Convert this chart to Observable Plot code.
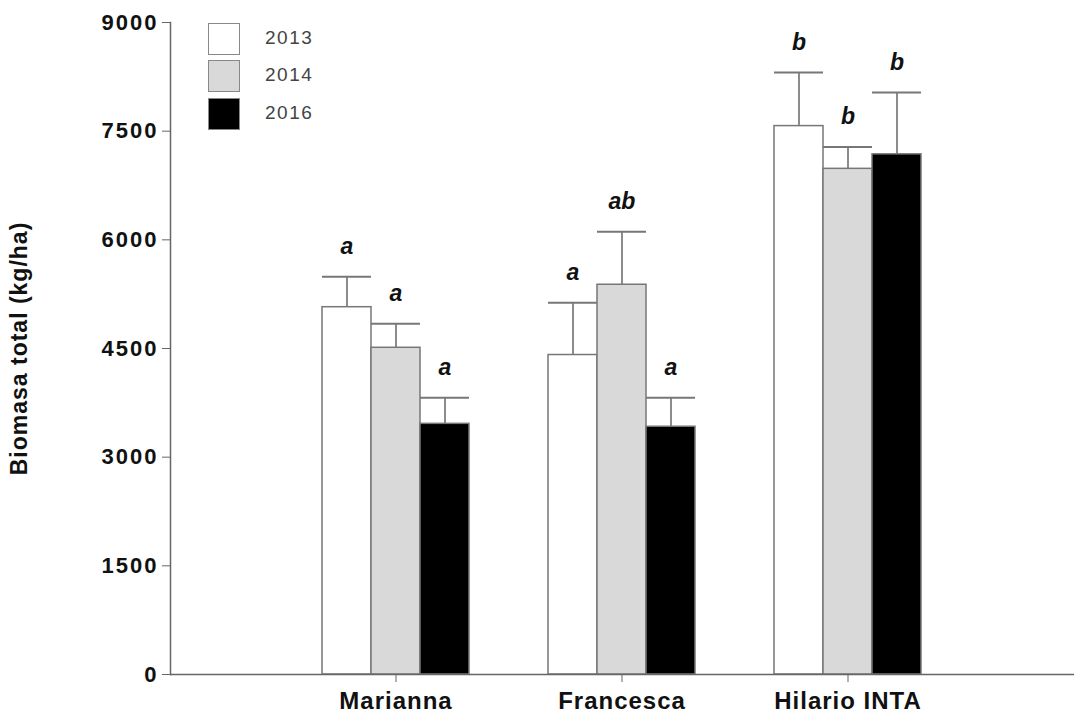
<!DOCTYPE html>
<html>
<head>
<meta charset="utf-8">
<script src="https://cdn.jsdelivr.net/npm/d3@7"></script>
<script src="https://cdn.jsdelivr.net/npm/@observablehq/plot@0.6"></script>
<style>
  html, body { margin: 0; padding: 0; background: #fff; }
  #wrap { position: relative; width: 1074px; height: 718px; font-family: "Liberation Sans", Arial, sans-serif; }
  #wrap svg text { font-family: "Liberation Sans", Arial, sans-serif; }
  .legend { position: absolute; left: 208px; top: 23px; }
  .legend .row { position: absolute; left: 0; width: 200px; height: 32px; }
  .legend .box { position: absolute; left: 0; top: 0; width: 30px; height: 30px; border: 1.5px solid #888; }
  .legend .lab { position: absolute; left: 57px; top: 4px; font-size: 19px; letter-spacing: 1.5px; color: #444; }
</style>
</head>
<body>
<div id="wrap"></div>
<script>
const categories = ["Marianna", "Francesca", "Hilario INTA"];
const years = ["2013", "2014", "2016"];
const mean2013 = [5070, 4410, 7570];
const mean2014 = [4510, 5380, 6980];
const mean2016 = [3460, 3420, 7180];
const err2013 = [420, 720, 740];
const err2014 = [330, 730, 300];
const err2016 = [360, 400, 855];
const letters2013 = ["a", "a", "b"];
const letters2014 = ["a", "ab", "b"];
const letters2016 = ["a", "a", "b"];
const yTicks = [0, 1500, 3000, 4500, 6000, 7500, 9000];

const means = {"2013": mean2013, "2014": mean2014, "2016": mean2016};
const errs = {"2013": err2013, "2014": err2014, "2016": err2016};
const letters = {"2013": letters2013, "2014": letters2014, "2016": letters2016};
const fills = {"2013": "#ffffff", "2014": "#d9d9d9", "2016": "#000000"};
const offsets = {"2013": -49, "2014": 0, "2016": 49};

const rows = years.map(yr => categories.map((c, i) => ({
  cat: c, year: yr, mean: means[yr][i], upper: means[yr][i] + errs[yr][i], letter: letters[yr][i]
})));

const marks = [];
years.forEach((yr, k) => {
  const data = rows[k];
  const dx = offsets[yr];
  marks.push(Plot.ruleX(data, {x: "cat", y1: "mean", y2: "upper", dx, stroke: "#666", strokeWidth: 1.5}));
  marks.push(Plot.tickY(data, {x: "cat", y: "upper", dx, stroke: "#777", strokeWidth: 2}));
  marks.push(Plot.barY(data, {x: "cat", y: "mean", dx, fill: fills[yr], stroke: "#777", strokeWidth: 1.5}));
  marks.push(Plot.text(data, {x: "cat", y: "upper", text: "letter", dx, dy: -30, fontSize: 23, fontWeight: "bold", fontStyle: "italic", fill: "#111"}));
});

const chart = Plot.plot({
  width: 1074,
  height: 718,
  marginLeft: 170,
  marginRight: 0,
  marginTop: 22,
  marginBottom: 44,
  x: {domain: categories, range: [283, 961], paddingInner: 0.783, paddingOuter: 0.3915},
  y: {domain: [0, 9000]},
  marks: [
    Plot.axisY({ticks: yTicks, tickFormat: d => String(d), tickSize: 8, tickPadding: 4, fontSize: 22, fontWeight: "bold", stroke: "#666", fill: "#111",
      label: "Biomasa total (kg/ha)", labelAnchor: "center", labelOffset: 160, labelArrow: "none"}),
    Plot.axisX({tickSize: 8, tickPadding: 9, fontSize: 24, fontWeight: "bold", stroke: "#666", fill: "#111", label: null}),
    ...marks,
    Plot.ruleY([0], {stroke: "#666", strokeWidth: 1.5}),
    Plot.frame({anchor: "left", stroke: "#666", strokeWidth: 1.5})
  ]
});

d3.select(chart).selectAll("g[aria-label='y-axis tick label'] text").style("letter-spacing", "2px");
d3.select(chart).selectAll("g[aria-label='x-axis tick label'] text").style("letter-spacing", "1px");
d3.select(chart).selectAll("g[aria-label='y-axis label'] text").style("letter-spacing", "1px").style("font-size", "23px").style("font-weight", "bold");

const wrap = document.getElementById("wrap");
wrap.appendChild(chart);

const legend = document.createElement("div");
legend.className = "legend";
const tops = [0, 37, 75];
years.forEach((yr, i) => {
  const row = document.createElement("div");
  row.className = "row";
  row.style.top = tops[i] + "px";
  const box = document.createElement("div");
  box.className = "box";
  box.style.background = fills[yr];
  const lab = document.createElement("div");
  lab.className = "lab";
  lab.textContent = yr;
  row.appendChild(box);
  row.appendChild(lab);
  legend.appendChild(row);
});
wrap.appendChild(legend);
</script>
</body>
</html>
